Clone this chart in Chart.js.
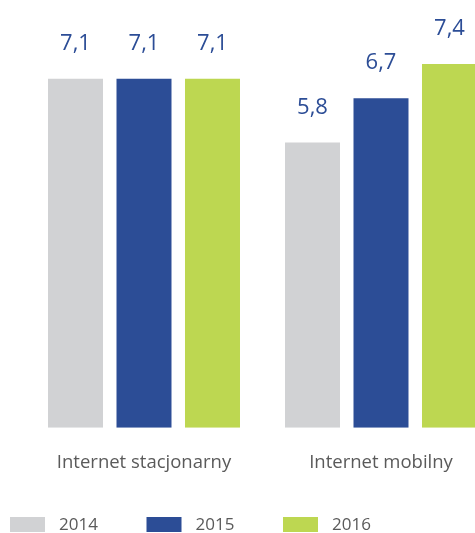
<!DOCTYPE html>
<html>
<head>
<meta charset="utf-8">
<script src="https://cdn.jsdelivr.net/npm/chart.js@4"></script>
<style>
  html, body { margin: 0; padding: 0; background: #fff; overflow: hidden; }
  body { width: 475px; height: 533px; }
  #wrap { width: 500px; height: 533px; position: relative; }
</style>
</head>
<body>
<div id="wrap"><canvas id="chart"></canvas></div>
<script>
const categories = ['Internet stacjonarny', 'Internet mobilny'];
const years = ['2014', '2015', '2016'];
const values2014 = [7.1, 5.8];
const values2015 = [7.1, 6.7];
const values2016 = [7.1, 7.4];
const colors = ['#d1d2d4', '#2c4d96', '#bdd751'];

const textGray = '#5a5a5a';
const labelBlue = '#2c4d96';
const fontFamily = "'Open Sans', sans-serif";

// value labels above the bars, written with a comma
const valueLabels = {
  id: 'valueLabels',
  afterDatasetsDraw(chart) {
    const ctx = chart.ctx;
    ctx.save();
    ctx.font = '22px ' + fontFamily;
    ctx.fillStyle = labelBlue;
    ctx.textAlign = 'center';
    ctx.textBaseline = 'alphabetic';
    chart.data.datasets.forEach((ds, i) => {
      chart.getDatasetMeta(i).data.forEach((bar, j) => {
        const txt = ds.data[j].toFixed(1).replace('.', ',');
        ctx.fillText(txt, bar.x, bar.y - 29);
      });
    });
    ctx.restore();
  }
};

// legend along the bottom edge, left aligned
const bottomLegend = {
  id: 'bottomLegend',
  afterDraw(chart) {
    const ctx = chart.ctx;
    const top = chart.height - 16;
    ctx.save();
    ctx.font = '17px ' + fontFamily;
    ctx.textBaseline = 'middle';
    ctx.textAlign = 'left';
    chart.data.datasets.forEach((ds, i) => {
      const x = 10 + i * 136.5;
      ctx.fillStyle = ds.backgroundColor;
      ctx.fillRect(x, top, 35, 15);
      ctx.fillStyle = textGray;
      ctx.fillText(ds.label, x + 49, top + 8);
    });
    ctx.restore();
  }
};

const chart = new Chart(document.getElementById('chart'), {
  type: 'bar',
  data: {
    labels: categories,
    datasets: [
      { label: years[0], data: values2014, backgroundColor: colors[0] },
      { label: years[1], data: values2015, backgroundColor: colors[1] },
      { label: years[2], data: values2016, backgroundColor: colors[2] }
    ]
  },
  options: {
    responsive: true,
    maintainAspectRatio: false,
    animation: false,
    categoryPercentage: 0.867,
    barPercentage: 0.803,
    layout: { padding: { left: 25.5, right: 0.5, top: 0, bottom: 35 } },
    plugins: {
      legend: { display: false },
      tooltip: { enabled: false }
    },
    scales: {
      x: {
        grid: { display: false, drawTicks: false },
        border: { display: false },
        ticks: { color: textGray, font: { family: fontFamily, size: 18.5 }, padding: 24 }
      },
      y: { display: false, min: 0, max: 8.7 }
    }
  },
  plugins: [valueLabels, bottomLegend]
});
</script>
</body>
</html>
